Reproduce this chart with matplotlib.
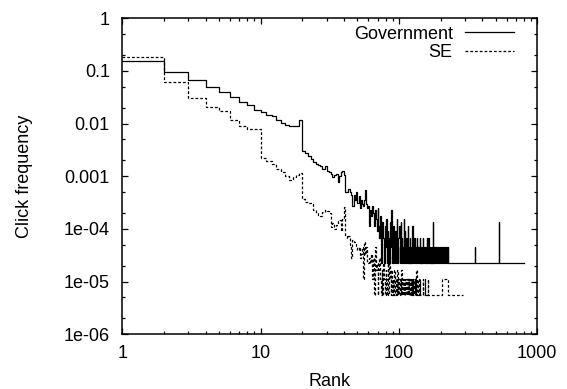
import numpy as np
import matplotlib
matplotlib.use("Agg")
import matplotlib.pyplot as plt
from matplotlib.ticker import LogLocator, NullFormatter

plt.rcParams['font.family'] = ['Liberation Sans', 'DejaVu Sans']
plt.rcParams['font.size'] = 13

# Government: click frequency per rank (ranks 1-40 read directly)
gov_head = [0.157, 0.095, 0.0675, 0.0505, 0.039, 0.0323, 0.0258, 0.0222, 0.0184, 0.0166,
            0.0148, 0.0137, 0.0119, 0.0105, 0.0094, 0.0092, 0.0092, 0.0092, 0.0119, 0.0030,
            0.0028, 0.0024, 0.0021, 0.00184, 0.00168, 0.00162, 0.00157, 0.00135, 0.00157, 0.00126,
            0.00119, 0.00109, 0.00096, 0.00104, 0.00109, 0.00078, 0.0010, 0.00119, 0.00125, 0.00104]
# ranks 41-226 as click counts (1 click = gov_unit)
gov_unit = 2.25e-5
gov_mid_clicks = [22, 22, 25, 22, 20, 12, 20, 16, 22, 14, 19, 11, 16, 13, 12, 16, 24, 13, 11, 12,
                  5, 10, 8, 12, 9, 5, 10, 7, 4, 11, 5, 3, 8, 1,
                  2, 6, 3, 1, 5, 2, 7, 1, 4, 3, 1, 6, 2, 10, 1, 3, 5, 1, 2, 4,
                  1, 7, 2, 1, 3, 5, 1, 2, 6, 1, 3, 2, 1, 7, 1, 4, 2, 1, 3, 1, 2, 5,
                  1, 2, 1, 3, 1, 2, 1, 2, 5, 1, 2, 1, 3, 1, 2, 2, 1, 3, 1, 2,
                  1, 2, 1, 1, 3, 2, 1, 2, 1, 2, 1, 3, 1, 2, 1, 1, 2, 1, 2, 1,
                  2, 1, 3, 1, 2, 1, 3, 1, 2, 1, 2, 1, 1, 2, 1, 2, 1, 1, 2, 6,
                  1, 2, 1, 2, 1, 1, 2, 1, 2, 1, 2, 1, 2, 2, 1, 2, 1, 2, 1, 2,
                  1, 2, 1, 1, 2, 1, 2, 1, 2, 1, 2, 1, 2, 1, 2, 1, 1, 2, 1, 2,
                  1, 2, 1, 2, 1, 2, 1, 1, 2, 1]
# flat tail: step points (rank, clicks)
gov_tail_ranks = [227, 355, 356, 525, 526, 805]
gov_tail_clicks = [1, 2, 1, 6, 1, 1]

# SE
se_head = [0.181, 0.061, 0.031, 0.021, 0.0174, 0.0119, 0.0092, 0.0079, 0.0079, 0.00223,
           0.00196, 0.00168, 0.00135, 0.00119, 0.0010, 0.00084, 0.00096, 0.00106, 0.00115, 0.000368,
           0.000323, 0.00031, 0.000296, 0.000228, 0.0002, 0.000184, 0.000176, 0.000209, 0.000228, 0.00022,
           0.0002, 0.000109, 0.00013, 0.0001, 0.000119, 0.000141, 0.000148, 0.000092, 0.000155, 0.00026]
se_unit = 5.6e-6
se_mid_clicks = [13, 12, 13, 9, 5, 11, 10, 10, 8, 7, 8, 5, 6, 8, 2, 10, 6, 8, 4, 4, 5, 4,
                 6, 2, 5, 1, 8, 3, 4, 1, 3, 5, 2, 1,
                 3, 1, 4, 2, 1, 3, 1, 2, 4, 1, 6, 2, 1, 3, 1,
                 2, 1, 3, 1, 1, 2, 1, 3, 1, 2, 1, 1, 2, 1, 3,
                 1, 2, 1, 2, 1, 2, 1, 1, 2, 1, 2, 1, 2, 1, 2, 1, 1, 2, 1, 2, 1, 2, 1, 1, 2, 1, 2, 1,
                 3,
                 1, 2, 1, 1, 2, 1, 1, 1, 2, 1, 1, 1, 1, 1, 2, 1, 1, 1, 1, 2, 1, 1, 1, 1, 1, 1, 1]
se_tail_ranks = [161, 162, 206, 227, 289]
se_tail_clicks = [2, 1, 2, 1, 1]

x_ticks = [1, 10, 100, 1000]
x_labels = ["1", "10", "100", "1000"]
y_ticks = [1, 0.1, 0.01, 0.001, 1e-4, 1e-5, 1e-6]
y_labels = ["1", "0.1", "0.01", "0.001", "1e-04", "1e-05", "1e-06"]


def build(head, mid_clicks, unit, tail_ranks, tail_clicks):
    n_head = len(head)
    ranks = np.concatenate([np.arange(1, n_head + 1),
                            np.arange(n_head + 1, n_head + 1 + len(mid_clicks)),
                            tail_ranks])
    freq = np.concatenate([head,
                           np.array(mid_clicks) * unit,
                           np.array(tail_clicks) * unit])
    return ranks, freq


gov_r, gov_f = build(gov_head, gov_mid_clicks, gov_unit, gov_tail_ranks, gov_tail_clicks)
se_r, se_f = build(se_head, se_mid_clicks, se_unit, se_tail_ranks, se_tail_clicks)

fig = plt.figure(figsize=(5.67, 3.89), dpi=100)
ax = fig.add_axes([0.2157, 0.1406, 0.7319, 0.8124])

ax.plot(gov_r, gov_f, drawstyle='steps-post', color='black', lw=0.9, label='Government')
ax.plot(se_r, se_f, drawstyle='steps-post', color='black', lw=0.9,
        linestyle=(0, (2.2, 1.6)), label='SE')

ax.set_xscale('log')
ax.set_yscale('log')
ax.set_xlim(1, 1000)
ax.set_ylim(1e-6, 1)
ax.set_xticks(x_ticks, x_labels)
ax.set_yticks(y_ticks, y_labels)
ax.xaxis.set_minor_locator(LogLocator(base=10, subs=np.arange(2, 10)))
ax.yaxis.set_minor_locator(LogLocator(base=10, subs=(2, 5)))
ax.xaxis.set_minor_formatter(NullFormatter())
ax.yaxis.set_minor_formatter(NullFormatter())
ax.tick_params(which='both', direction='in', top=True, right=True, width=0.9)
ax.tick_params(which='major', length=4.5)
ax.tick_params(which='minor', length=2.4)
ax.tick_params(axis='x', pad=8)
ax.tick_params(axis='y', pad=9)
for s in ax.spines.values():
    s.set_linewidth(1.1)

ax.set_xlabel('Rank')
ax.set_ylabel('Click frequency')
ax.xaxis.set_label_coords(0.5, -0.122)
ax.yaxis.set_label_coords(-0.215, 0.5)

ax.legend(loc='upper right', bbox_to_anchor=(0.944, 0.977), frameon=False,
          markerfirst=False, borderpad=0, borderaxespad=0,
          handlelength=2.7, handletextpad=0.7, labelspacing=0.1)

fig.savefig('out.png', dpi=100)
